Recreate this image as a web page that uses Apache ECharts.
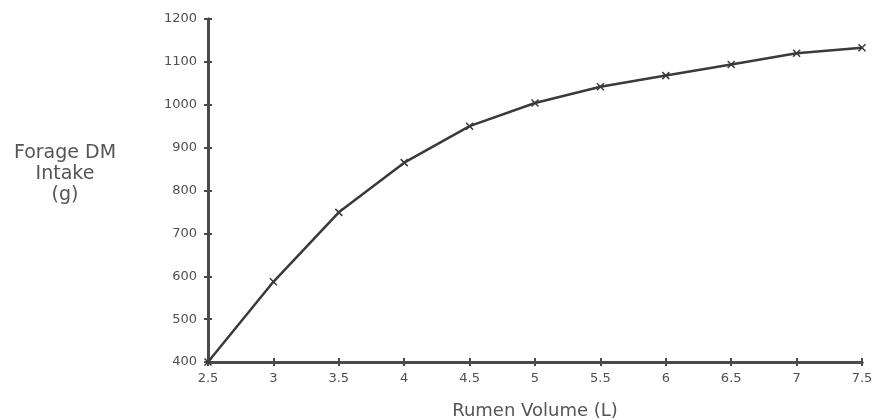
<!DOCTYPE html>
<html>
<head>
<meta charset="utf-8">
<script src="https://cdn.jsdelivr.net/npm/echarts@6/dist/echarts.min.js"></script>
<style>
html,body{margin:0;padding:0;background:#fff;}
#chart{width:874px;height:420px;}
</style>
</head>
<body>
<div id="chart"></div>
<script>
const rumenVolume = [2.5, 3, 3.5, 4, 4.5, 5, 5.5, 6, 6.5, 7, 7.5];
const forageIntake = [400, 587, 749, 865, 950, 1004, 1042, 1068, 1094, 1120, 1133];
const xTitle = 'Rumen Volume (L)';
const yTitle = 'Forage DM\nIntake\n(g)';

const FONT = 'DejaVu Sans';
const AX = '#4a4a4a';
const chart = echarts.init(document.getElementById('chart'));

const baseX = {
  type: 'value', min: 2.5, max: 7.5, interval: 0.5, position: 'bottom', offset: 0,
  splitLine: { show: false },
  axisLine: { show: true, onZero: false, lineStyle: { color: AX, width: 3 } }
};
const baseY = {
  type: 'value', min: 400, max: 1200, interval: 100, position: 'left', offset: 0,
  splitLine: { show: false },
  axisLine: { show: true, onZero: false, lineStyle: { color: AX, width: 3 } }
};

chart.setOption({
  animation: false,
  backgroundColor: '#ffffff',
  grid: { left: 208, right: 12, top: 19, bottom: 58, containLabel: false, outerBoundsMode: 'none' },
  xAxis: [
    Object.assign({}, baseX, {
      axisTick: { show: true, inside: false, length: 4, lineStyle: { color: AX, width: 2 } },
      axisLabel: { show: true, color: '#4f4f4f', fontFamily: FONT, fontSize: 13, margin: 10,
        formatter: v => String(v) },
      name: xTitle, nameLocation: 'middle', nameGap: 40,
      nameTextStyle: { color: '#555', fontFamily: FONT, fontSize: 18 }
    }),
    Object.assign({}, baseX, {
      axisTick: { show: true, inside: true, length: 4, lineStyle: { color: AX, width: 2 } },
      axisLabel: { show: false }
    })
  ],
  yAxis: [
    Object.assign({}, baseY, {
      axisTick: { show: true, inside: false, length: 4, lineStyle: { color: AX, width: 2 } },
      axisLabel: { show: true, color: '#4f4f4f', fontFamily: FONT, fontSize: 13, margin: 11,
        formatter: v => String(v) }
    }),
    Object.assign({}, baseY, {
      axisTick: { show: true, inside: true, length: 4, lineStyle: { color: AX, width: 2 } },
      axisLabel: { show: false }
    })
  ],
  graphic: [{
    type: 'text', x: 65, y: 143,
    style: { text: yTitle, fill: '#555', font: '19px "DejaVu Sans"', align: 'center', lineHeight: 21 }
  }],
  series: [{
    type: 'line',
    data: rumenVolume.map((x, i) => [x, forageIntake[i]]),
    xAxisIndex: 0, yAxisIndex: 0,
    symbol: 'path://M0,0L10,10M10,0L0,10',
    symbolSize: 7,
    showSymbol: true,
    itemStyle: { color: 'none', borderColor: '#3a3a3a', borderWidth: 1.5 },
    lineStyle: { color: '#3a3a3a', width: 2.5 }
  }]
});
</script>
</body>
</html>
